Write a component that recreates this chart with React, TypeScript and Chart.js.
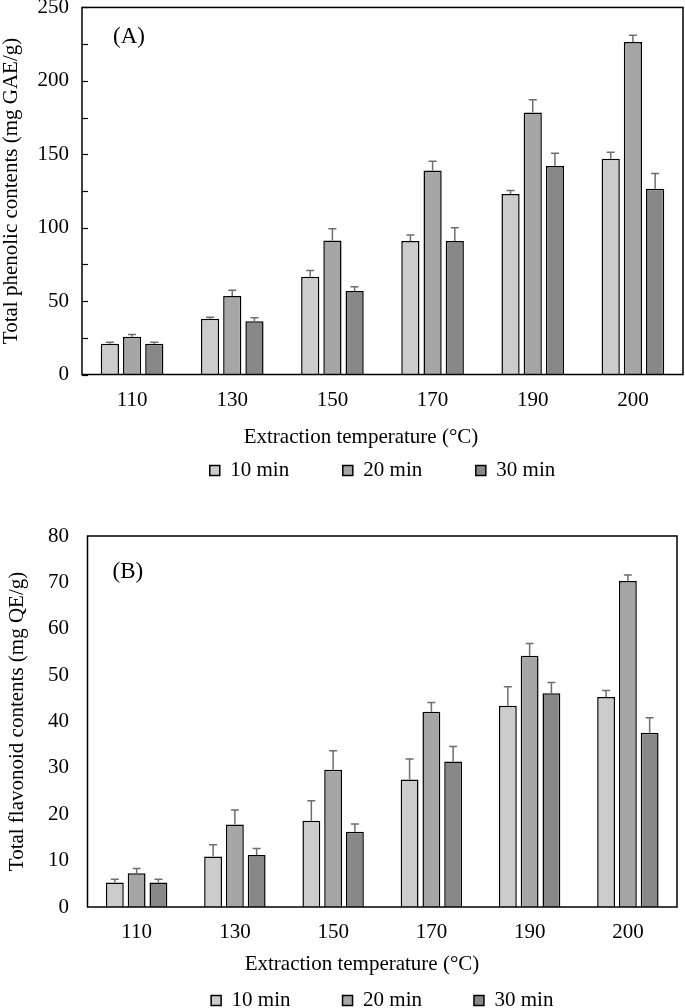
import React, { useEffect, useRef } from "react";
import { Chart, registerables } from "chart.js";

Chart.register(...registerables);

// ---------- data ----------
const temperatures = ["110", "130", "150", "170", "190", "200"];
const seriesNames = ["10 min", "20 min", "30 min"];
const seriesColors = ["#cccccc", "#a6a6a6", "#888888"];

const phenolic10 = [21, 38, 66.5, 91, 123, 147];
const phenolic20 = [25.7, 53.4, 91.3, 139, 178.5, 226.5];
const phenolic30 = [21, 36.3, 56.8, 91, 142, 126.5];
const phenolicErr10 = [1, 1, 4.3, 4, 2.3, 4.3];
const phenolicErr20 = [1.5, 4, 8, 6.3, 8.6, 4.5];
const phenolicErr30 = [1, 2.3, 3, 9, 8.7, 10.4];

const flavonoid10 = [5.3, 10.9, 18.6, 27.5, 43.4, 45.3];
const flavonoid20 = [7.3, 17.8, 29.6, 42.1, 54.2, 70.3];
const flavonoid30 = [5.3, 11.2, 16.2, 31.4, 46.1, 37.6];
const flavonoidErr10 = [0.7, 2.5, 4.3, 4.4, 4.1, 1.4];
const flavonoidErr20 = [1, 3.1, 4.1, 2, 2.6, 1.3];
const flavonoidErr30 = [0.7, 1.4, 1.7, 3.2, 2.3, 3.2];

const xTitle = "Extraction temperature (°C)";
const yTitleA = "Total phenolic contents (mg GAE/g)";
const yTitleB = "Total flavonoid contents (mg QE/g)";
const tagA = "(A)";
const tagB = "(B)";

const FONT = "'Liberation Serif', 'Times New Roman', serif";
const FS = 21;
const ERR_COLOR = "#6e6e6e";

// ---------- plugin ----------
const decorPlugin = {
  id: "decor",
  beforeDraw(chart: any) {
    // let x tick labels extend below the (compact) x-scale box
    const s = chart.scales.x;
    if (s) s._computeLabelArea = () => undefined;
  },
  afterDatasetsDraw(chart: any, _args: any, opts: any) {
    const { ctx, chartArea } = chart;
    const yScale = chart.scales.y;
    ctx.save();
    // error bars (positive only)
    chart.data.datasets.forEach((ds: any, i: number) => {
      const meta = chart.getDatasetMeta(i);
      meta.data.forEach((el: any, j: number) => {
        const v = ds.data[j];
        const e = ds.errors ? ds.errors[j] : 0;
        if (!e) return;
        const yTop = yScale.getPixelForValue(v + e);
        ctx.strokeStyle = ERR_COLOR;
        ctx.lineWidth = 1.5;
        ctx.beginPath();
        ctx.moveTo(el.x, el.y);
        ctx.lineTo(el.x, yTop);
        ctx.moveTo(el.x - 4, yTop);
        ctx.lineTo(el.x + 4, yTop);
        ctx.stroke();
      });
    });
    // inward ticks
    if (opts.innerTicks) {
      ctx.strokeStyle = "#000";
      ctx.lineWidth = 1.2;
      yScale.ticks.forEach((t: any) => {
        const py = Math.round(yScale.getPixelForValue(t.value)) + 0.5;
        ctx.beginPath();
        ctx.moveTo(chartArea.left, py);
        ctx.lineTo(chartArea.left + 6, py);
        ctx.stroke();
      });
    }
    // frame
    ctx.strokeStyle = "#000";
    ctx.lineWidth = 1.5;
    ctx.strokeRect(chartArea.left, chartArea.top, chartArea.right - chartArea.left, chartArea.bottom - chartArea.top);
    // panel tag
    ctx.fillStyle = "#000";
    ctx.font = `23px ${FONT}`;
    ctx.textAlign = "left";
    ctx.textBaseline = "middle";
    ctx.fillText(opts.tag, chartArea.left + opts.tagDx, chartArea.top + opts.tagDy);
    // x-axis title
    ctx.font = `${FS}px ${FONT}`;
    ctx.textAlign = "center";
    ctx.fillText(opts.xTitle, chartArea.left + opts.xTitleDx, chartArea.bottom + opts.xTitleDy);
    ctx.restore();
  },
};

type Panel = {
  values: number[][];
  errors: number[][];
  yMax: number;
  yStep: number;
  labelEvery: number;
  yTitle: string;
  tag: string;
  pad: { top: number; right: number };
  yWidth: number;
  yTickGap: number;
  yTitlePad: number;
  xHeight: number;
  legendPad: number;
  innerTicks: boolean;
  tagDx: number;
  tagDy: number;
  xTitleDx: number;
  xTitleDy: number;
};

function buildConfig(p: Panel): any {
  return {
    type: "bar",
    data: {
      labels: temperatures,
      datasets: seriesNames.map((name, i) => ({
        label: name,
        data: p.values[i],
        errors: p.errors[i],
        backgroundColor: seriesColors[i],
        borderColor: "#000000",
        borderWidth: 1.5,
        borderSkipped: "bottom",
        categoryPercentage: 0.665,
        barPercentage: 0.82,
      })),
    },
    options: {
      responsive: false,
      animation: false,
      devicePixelRatio: 1,
      layout: { padding: { top: p.pad.top, left: 0, right: p.pad.right, bottom: 0 } },
      scales: {
        x: {
          grid: { display: false, drawTicks: false },
          border: { display: false },
          ticks: { color: "#000", padding: 15, font: { family: FONT, size: FS, lineHeight: 1 } },
          afterFit: (s: any) => {
            s.height = p.xHeight;
          },
        },
        y: {
          min: 0,
          max: p.yMax,
          grid: { display: false, drawTicks: true, tickLength: p.yTickGap },
          border: { display: false },
          ticks: {
            stepSize: p.yStep,
            color: "#000",
            padding: 0,
            font: { family: FONT, size: FS, lineHeight: 0.71 },
            callback: (v: any) => (Number(v) % p.labelEvery === 0 ? String(v) : ""),
          },
          title: {
            display: true,
            text: p.yTitle,
            color: "#000",
            padding: { top: p.yTitlePad, bottom: 0 },
            font: { family: FONT, size: FS, lineHeight: 1 },
          },
          afterFit: (s: any) => {
            s.width = p.yWidth;
          },
        },
      },
      plugins: {
        legend: {
          position: "bottom",
          fullSize: false,
          labels: {
            color: "#000",
            boxWidth: 10,
            boxHeight: 10,
            padding: p.legendPad,
            font: { family: FONT, size: FS, lineHeight: 1 },
          },
        },
        tooltip: { enabled: false },
        decor: {
          innerTicks: p.innerTicks,
          tag: p.tag,
          tagDx: p.tagDx,
          tagDy: p.tagDy,
          xTitle: xTitle,
          xTitleDx: p.xTitleDx,
          xTitleDy: p.xTitleDy,
        },
      },
    },
    plugins: [decorPlugin],
  };
}

const panelA: Panel = {
  values: [phenolic10, phenolic20, phenolic30],
  errors: [phenolicErr10, phenolicErr20, phenolicErr30],
  yMax: 250,
  yStep: 25,
  labelEvery: 50,
  yTitle: yTitleA,
  tag: tagA,
  pad: { top: 0, right: 2 },
  yWidth: 82,
  yTickGap: 13,
  yTitlePad: 0.5,
  xHeight: 31.9,
  legendPad: 53.6,
  innerTicks: true,
  tagDx: 31,
  tagDy: 29.5,
  xTitleDx: 279,
  xTitleDy: 62.5,
};

const panelB: Panel = {
  values: [flavonoid10, flavonoid20, flavonoid30],
  errors: [flavonoidErr10, flavonoidErr20, flavonoidErr30],
  yMax: 80,
  yStep: 10,
  labelEvery: 10,
  yTitle: yTitleB,
  tag: tagB,
  pad: { top: 46, right: 8 },
  yWidth: 87.5,
  yTickGap: 18.5,
  yTitlePad: 6.5,
  xHeight: 31,
  legendPad: 52,
  innerTicks: false,
  tagDx: 25,
  tagDy: 36,
  xTitleDx: 274.5,
  xTitleDy: 57,
};

function ChartCanvas({ panel, top, height }: { panel: Panel; top: number; height: number }) {
  const ref = useRef<HTMLCanvasElement | null>(null);
  useEffect(() => {
    if (!ref.current) return;
    const chart = new Chart(ref.current, buildConfig(panel));
    return () => chart.destroy();
  }, [panel]);
  return (
    <canvas
      ref={ref}
      width={685}
      height={height}
      style={{ position: "absolute", left: 0, top, width: 685, height, display: "block" }}
    />
  );
}

export default function App() {
  return (
    <div
      style={{
        position: "absolute",
        left: 0,
        top: 0,
        width: 685,
        height: 1008,
        overflow: "hidden",
        background: "#ffffff",
      }}
    >
      <ChartCanvas panel={panelA} top={0} height={491} />
      <ChartCanvas panel={panelB} top={490} height={531} />
    </div>
  );
}
